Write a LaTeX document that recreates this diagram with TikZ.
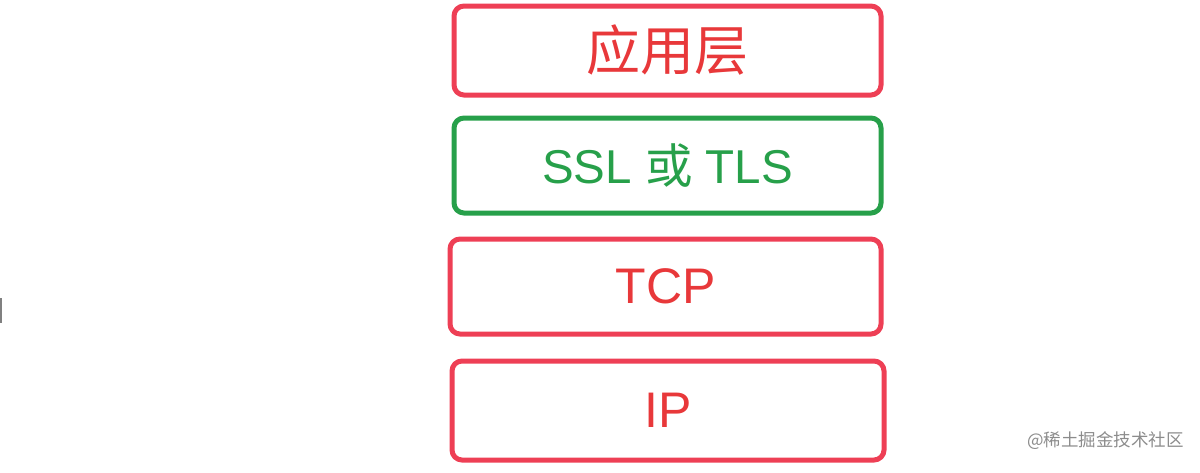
\documentclass[tikz,border=0pt]{standalone}
\usepackage{fontspec}
\setmainfont{Liberation Sans}
\newfontfamily\cjk{Noto Sans CJK SC}
\usetikzlibrary{positioning}
\definecolor{layerred}{HTML}{EE3F55}
\definecolor{textred}{HTML}{E8383A}
\definecolor{layergreen}{HTML}{27A04A}

\begin{document}
\begin{tikzpicture}[x=1pt,y=-1pt]
\tikzset{layer/.style={draw=layerred, text=textred, line width=5pt, rounded corners=10pt, inner sep=0pt}}
\tikzset{seclayer/.style={layer, draw=layergreen, text=layergreen}}

\useasboundingbox (0,0) rectangle (1200,472);

\node [layer, minimum width=427pt, minimum height=89pt] (app) at (667.5,50.5) {\cjk\fontsize{54}{58}\selectfont 应用层};
\node [seclayer, minimum width=427pt, minimum height=95pt] (ssl) at (667.5,165.5) {\fontsize{47.5}{52}\selectfont SSL {\cjk 或} TLS};
\node [layer, minimum width=431pt, minimum height=95pt] (tcp) at (665.5,286.5) {\fontsize{50}{54}\selectfont TCP};
\node [layer, minimum width=432pt, minimum height=99pt] (ip) at (668,410.5) {\fontsize{50}{54}\selectfont IP};

\draw [gray, line width=1.5pt] (1,298) -- (1,323);
\node [text=black!45, anchor=east, inner sep=0pt] (mark) at (1184,441) {\cjk\fontsize{17.5}{20}\selectfont @稀土掘金技术社区};

\end{tikzpicture}
\end{document}
